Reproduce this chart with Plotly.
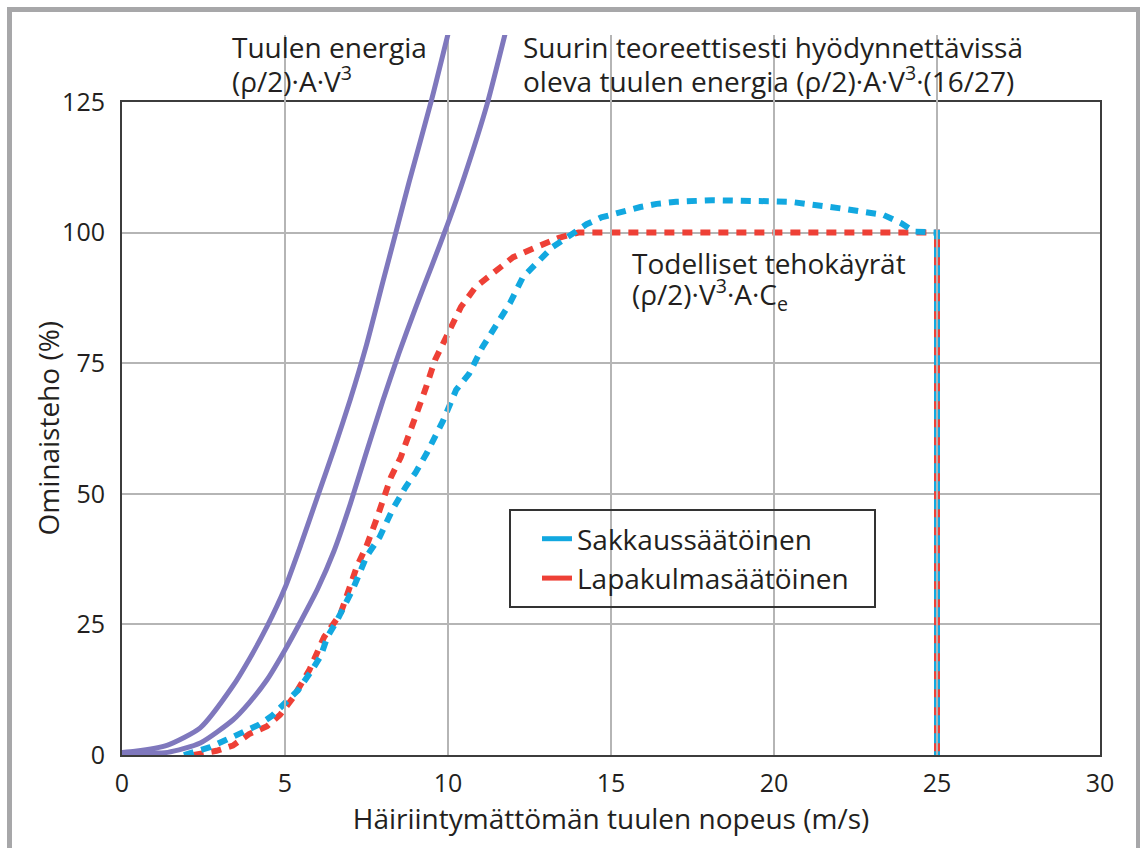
import plotly.graph_objects as go

# ---------------- data ----------------
x_ticks = [0, 5, 10, 15, 20, 25, 30]
y_ticks = [0, 25, 50, 75, 100, 125]

# Tuulen energia (rho/2)*A*V^3
tuuli_v = [0, 0.4, 1.4, 2.4, 3.4, 3.9, 4.45, 5.0, 5.5, 6.0, 6.5, 7.0, 7.5, 8.0, 8.4, 8.8, 9.5, 10.0]
tuuli_p = [0.5, 0.7, 1.9, 5.2, 13.2, 18.3, 24.6, 32.0, 40.5, 49.5, 58.5, 68.0, 78.5, 90.5, 100.0, 109.5, 125.5, 138.0]

# Suurin teoreettisesti hyödynnettävissä oleva (Betz 16/27)
betz_v = [0, 1.4, 2.4, 3.4, 3.9, 4.45, 5.0, 5.5, 6.0, 6.5, 7.0, 7.5, 8.0, 8.5, 9.0, 9.5, 10.0, 10.5, 11.2, 11.75]
betz_p = [0.5, 0.5, 2.3, 6.7, 10.0, 14.4, 20.1, 25.8, 31.8, 39.0, 48.0, 58.0, 67.8, 77.0, 85.5, 93.6, 101.8, 110.7, 124.6, 138.0]

# Sakkaussäätöinen (stall regulated)
sakkaus_v = [1.9, 2.7, 3.2, 3.7, 4.2, 4.6, 5.0, 5.4, 5.8, 6.1, 6.3, 6.6, 7.1, 7.5, 7.9, 8.3, 8.7,
             9.0, 9.35, 9.85, 10.25, 10.65, 11.05, 11.5, 11.9, 12.3, 12.8, 13.2, 13.75, 14.25, 14.7,
             15.3, 15.9, 16.4, 17.0, 18.1, 19.3, 19.9, 20.5, 21.1, 21.6, 22.2, 22.7, 23.35, 23.9, 24.3,
             25.0, 25.0]
sakkaus_p = [0, 1.5, 2.9, 4.2, 5.8, 7.5, 9.8, 12.4, 16.0, 19.0, 22.6, 25.8, 32.0, 38.0, 41.7, 47.0, 51.3,
             54.0, 57.8, 64.0, 69.9, 73.0, 78.0, 82.7, 86.5, 91.5, 94.8, 97.2, 99.5, 101.6, 102.9,
             104.0, 104.9, 105.5, 105.9, 106.2, 106.2, 106.0, 105.9, 105.5, 104.9, 104.5, 104.0, 103.4, 101.8, 100.2,
             100.0, 0]

# Lapakulmasäätöinen (pitch regulated)
lapa_v = [2.2, 2.9, 3.4, 3.9, 4.45, 4.85, 5.25, 5.75, 6.2, 6.7, 7.2, 7.5, 7.8, 8.1, 8.25, 8.55, 8.95,
          9.3, 9.6, 10.0, 10.4, 10.85, 11.4, 12.0, 12.7, 13.4, 14.0, 25.0, 25.0]
lapa_p = [0, 0.8, 1.8, 4.0, 5.5, 7.7, 11.0, 16.3, 22.6, 27.0, 36.0, 40.0, 45.0, 50.0, 53.2, 57.0, 63.5,
          69.9, 75.6, 80.8, 85.8, 89.6, 92.3, 95.3, 97.2, 99.0, 100.0, 100.0, 0]

legend_names = ["Sakkaussäätöinen", "Lapakulmasäätöinen"]

# ---------------- style ----------------
W, H = 1140, 848
ML, MR, MT, MB = 122, 40, 35, 93
PW, PH = W - ML - MR, H - MT - MB
Y_TOP_PX = 102  # pixel of the 125 gridline
main_frac = (H - MB - Y_TOP_PX) / PH
Y_MAX = 125

PURPLE = "#7f78bd"
BLUE = "#12a8e0"
RED = "#ee4036"
TXT = "#231f20"
FONT = "Open Sans"
FS = 28
TICK_FS = 25
DOTS = "10px,8px"
DOT_W = 6


def px_x(p):
    return (p - ML) / PW


def px_y(p):
    return (H - MB - p) / PH


fig = go.Figure()

# actual power curves
fig.add_trace(go.Scatter(x=lapa_v, y=lapa_p, mode="lines", showlegend=False,
                         line=dict(color=RED, width=DOT_W, dash=DOTS)))
fig.add_trace(go.Scatter(x=lapa_v[-2:], y=lapa_p[-2:], mode="lines", showlegend=False,
                         line=dict(color=RED, width=DOT_W)))
fig.add_trace(go.Scatter(x=sakkaus_v, y=sakkaus_p, mode="lines", showlegend=False,
                         line=dict(color=BLUE, width=DOT_W, dash=DOTS)))

# purple theoretical curves (on an extended y axis so they rise above the frame)
fig.add_trace(go.Scatter(x=tuuli_v, y=tuuli_p, mode="lines", yaxis="y2", showlegend=False,
                         line=dict(color=PURPLE, width=5, shape="spline", smoothing=0.6)))
fig.add_trace(go.Scatter(x=betz_v, y=betz_p, mode="lines", yaxis="y2", showlegend=False,
                         line=dict(color=PURPLE, width=5, shape="spline", smoothing=0.6)))

# legend entries (solid samples like in the reference)
fig.add_trace(go.Scatter(x=[None], y=[None], mode="lines", name=legend_names[0],
                         line=dict(color=BLUE, width=5), legendgroup="a"))
fig.add_trace(go.Scatter(x=[None], y=[None], mode="lines", name=legend_names[1],
                         line=dict(color=RED, width=5), legendgroup="b"))

axis_common = dict(
    showgrid=True, gridcolor="#b5b5b5", gridwidth=2,
    showline=True, linecolor="#3c3c3c", linewidth=2, mirror=True,
    zeroline=False, ticks="", tickfont=dict(family=FONT, size=TICK_FS, color=TXT),
)

fig.update_layout(
    width=W, height=H,
    margin=dict(l=ML, r=MR, t=MT, b=MB),
    paper_bgcolor="white", plot_bgcolor="rgba(0,0,0,0)",
    font=dict(family=FONT, size=FS, color=TXT),
    xaxis=dict(range=[0, 30], tickvals=x_ticks, ticklabelstandoff=5,
               title=dict(text="Häiriintymättömän tuulen nopeus (m/s)", standoff=0,
                          font=dict(family=FONT, size=FS, color=TXT)),
               **axis_common),
    yaxis=dict(range=[0, Y_MAX], tickvals=y_ticks, domain=[0, main_frac], ticklabelstandoff=10,
               **axis_common),
    yaxis2=dict(range=[0, Y_MAX / main_frac], domain=[0, 1], visible=False, anchor="x",
                showgrid=False, zeroline=False),
    showlegend=True,
    legend=dict(x=px_x(537), y=px_y(514), xanchor="left", yanchor="top",
                bgcolor="rgba(0,0,0,0)", borderwidth=0, tracegroupgap=0,
                font=dict(family=FONT, size=FS, color=TXT)),
)

# y axis title
fig.add_annotation(xref="paper", yref="paper", x=px_x(48), y=px_y(428.5), xanchor="center", yanchor="middle",
                   textangle=-90, showarrow=False, text="Ominaisteho (%)")

# legend frame
fig.add_shape(type="rect", xref="paper", yref="paper",
              x0=px_x(510), x1=px_x(875), y0=px_y(607), y1=px_y(510),
              line=dict(color="#333333", width=2), fillcolor="rgba(0,0,0,0)")

# outer grey frame
fig.add_shape(type="rect", xref="paper", yref="paper",
              x0=px_x(9.5), x1=px_x(1138.5), y0=px_y(900), y1=px_y(9.5),
              line=dict(color="#a7a7a9", width=5), fillcolor="rgba(0,0,0,0)")

# text labels (one annotation per line to mimic the tight print leading)
labels = [
    (230, 47, "Tuulen energia"),
    (230, 79, "(ρ/2)·A·V<sup>3</sup>"),
    (521, 47, "Suurin teoreettisesti hyödynnettävissä"),
    (521, 79, "oleva tuulen energia (ρ/2)·A·V<sup>3</sup>·(16/27)"),
    (630, 263, "Todelliset tehokäyrät"),
    (630, 294, "(ρ/2)·V<sup>3</sup>·A·C<sub>e</sub>"),
]
for lx, ly, txt in labels:
    fig.add_annotation(xref="paper", yref="paper", x=px_x(lx), y=px_y(ly),
                       xanchor="left", yanchor="middle", align="left", showarrow=False, text=txt)

fig.write_html("out.html")
